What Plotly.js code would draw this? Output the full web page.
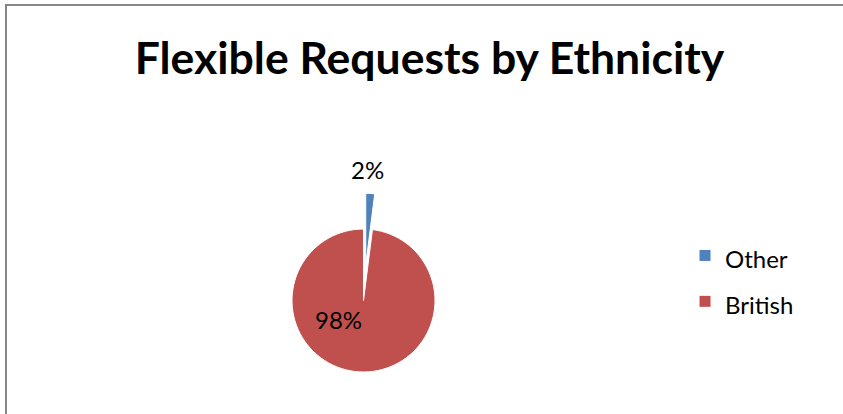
<!DOCTYPE html>
<html>
<head>
<meta charset="utf-8">
<script src="https://cdn.plot.ly/plotly-3.0.1.min.js"></script>
<style>
html,body{margin:0;padding:0;background:#fff;}
#wrap{position:relative;width:843px;height:414px;overflow:hidden;}
#chart{position:absolute;left:0;top:0;width:843px;height:414px;}
#frame{position:absolute;left:5px;top:4px;width:900px;height:500px;border-top:2px solid #878787;border-left:2px solid #878787;pointer-events:none;}
</style>
</head>
<body>
<div id="wrap"><div id="chart"></div><div id="frame"></div></div>
<script>
var categories = ['Other', 'British'];
var values = [2, 98];
var colors = ['#4F81BD', '#C0504D'];
var pulls = [0.5, 0];
var chartTitle = 'Flexible Requests by Ethnicity';

var FONT = 'Lato, sans-serif';
var total = values.reduce(function (a, b) { return a + b; }, 0);
var pctText = values.map(function (v) { return Math.round(v / total * 100) + '%'; });
var legendLabels = categories.map(function (c) { return '<span style="font-size:24px">' + c + '</span>'; });

// label anchor positions (paper fractions) for the percent labels, one per slice
var labelPos = [{x: 0.4365, y: 0.591}, {x: 0.4021, y: 0.229}];

var trace = {
  type: 'pie',
  labels: legendLabels,
  values: values,
  sort: false,
  direction: 'clockwise',
  rotation: 0,
  pull: pulls,
  marker: {colors: colors, line: {color: '#ffffff', width: 1}},
  textinfo: 'none',
  hoverinfo: 'label+percent',
  domain: {x: [0.30397, 0.55842], y: [0.0151, 0.5332]}
};

var annotations = pctText.map(function (t, i) {
  return {
    text: t, showarrow: false,
    xref: 'paper', yref: 'paper',
    x: labelPos[i].x, y: labelPos[i].y,
    xanchor: 'center', yanchor: 'middle',
    font: {family: FONT, size: 24, color: '#000000'}
  };
});

var layout = {
  width: 843,
  height: 414,
  margin: {l: 0, r: 0, t: 0, b: 0},
  paper_bgcolor: '#ffffff',
  title: {
    text: '<b>' + chartTitle + '</b>',
    font: {family: FONT, size: 44.5, color: '#000000'},
    x: 0.5095, xanchor: 'center',
    y: 0.86, yanchor: 'middle', yref: 'container'
  },
  showlegend: true,
  legend: {
    x: 0.8126, xanchor: 'left',
    y: 0.4505, yanchor: 'top',
    font: {family: FONT, size: 33, color: '#000000'},
    bgcolor: 'rgba(0,0,0,0)'
  },
  annotations: annotations
};

Plotly.newPlot('chart', [trace], layout, {displayModeBar: false, staticPlot: true});
</script>
</body>
</html>
